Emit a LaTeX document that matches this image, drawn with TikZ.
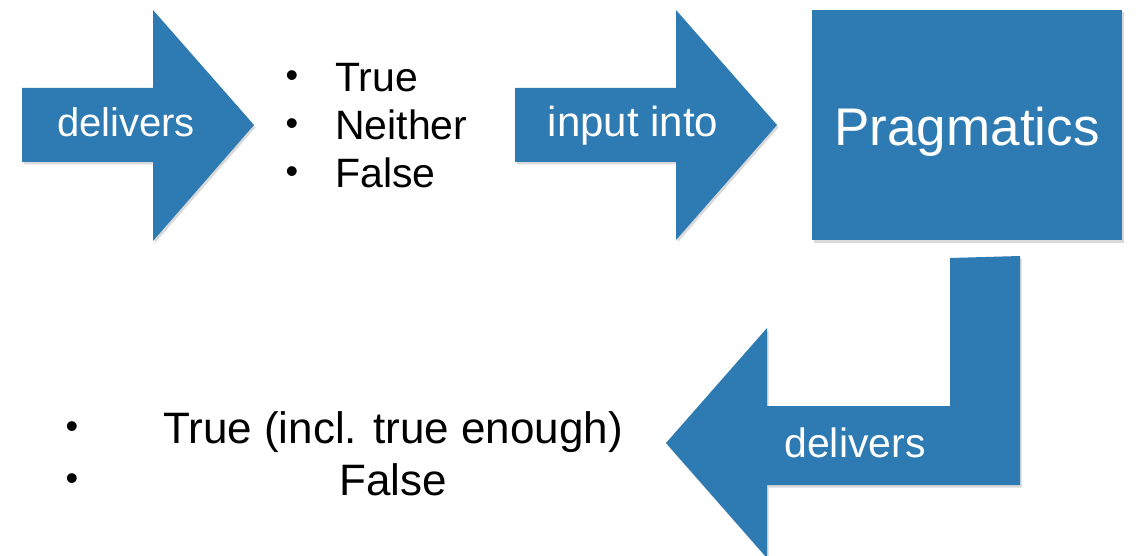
\documentclass[tikz,border=0pt]{standalone}
\usepackage{fontspec}
\setmainfont{Liberation Sans}
\usetikzlibrary{shadows}

\definecolor{paperblue}{RGB}{46,122,178}

\tikzset{
  paper/.style={fill=paperblue, drop shadow={opacity=0.3, shadow xshift=1.5pt, shadow yshift=-2.5pt}},
  onpaper/.style={text=white, anchor=base, inner sep=0pt},
  listitem/.style={anchor=base west, inner sep=0pt, font=\fontsize{41}{49}\selectfont},
  listdot/.style={anchor=base, inner sep=0pt, font=\fontsize{36}{40}\selectfont}
}

\begin{document}
\begin{tikzpicture}[x=1pt,y=-1pt]
\useasboundingbox (0,0) rectangle (1140,556);

% first arrow
\fill [paper] (22,88) -- (153,88) -- (153,10) -- (254,125) -- (153,241) -- (153,162) -- (22,162) -- cycle;
\node (D1) at (126,137) [onpaper, font=\fontsize{40}{48}\selectfont] {delivers};

% three values
\node (V1) at (335,92) [listitem] {True};
\node (V2) at (335,140) [listitem] {Neither};
\node (V3) at (335,188) [listitem] {False};
\node (P1) at (292,88) [listdot] {\textbullet};
\node (P2) at (292,136) [listdot] {\textbullet};
\node (P3) at (292,184) [listdot] {\textbullet};

% second arrow
\fill [paper] (515,88) -- (676,88) -- (676,10) -- (777,125) -- (676,240) -- (676,162) -- (515,162) -- cycle;
\node (IN) at (633,137) [onpaper, font=\fontsize{42}{50}\selectfont] {input into};

% pragmatics box
\node (PR) at (967,125) [paper, minimum width=310pt, minimum height=230pt, text height=42pt, text depth=0pt, text=white, font=\fontsize{53}{60}\selectfont] {Pragmatics};

% bent arrow back to the left
\fill [paper] (666,443) -- (767,328) -- (767,406) -- (950,406) -- (950,258) -- (1020,256) -- (1020,485) -- (767,485) -- (767,558) -- cycle;
\node (D2) at (855,457) [onpaper, font=\fontsize{41}{49}\selectfont] {delivers};

% two values
\node (W1) at (393,443) [anchor=base, inner sep=0pt, font=\fontsize{44}{50}\selectfont] {True (incl. true enough)};
\node (W2) at (393,495) [anchor=base, inner sep=0pt, font=\fontsize{44}{50}\selectfont] {False};
\node (Q1) at (72,438) [listdot] {\textbullet};
\node (Q2) at (72,490) [listdot] {\textbullet};
\end{tikzpicture}
\end{document}
